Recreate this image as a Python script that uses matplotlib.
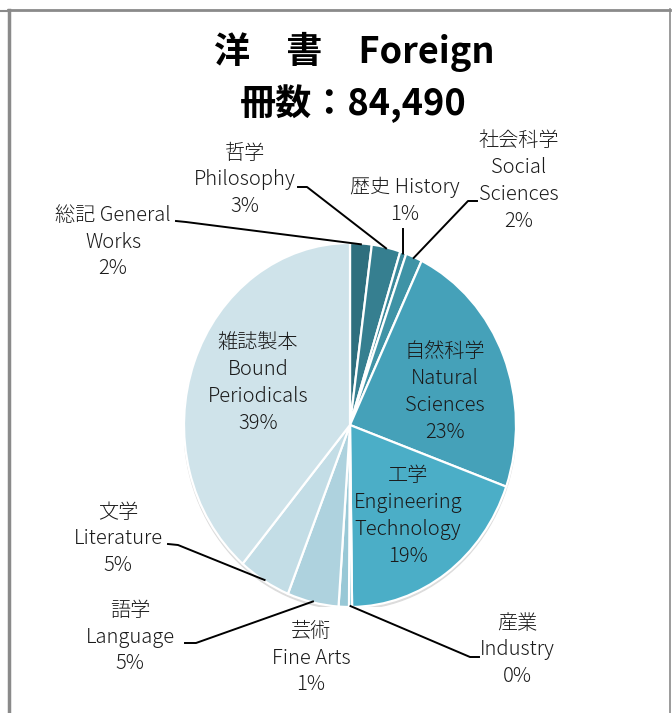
import matplotlib
matplotlib.use('Agg')
import matplotlib.pyplot as plt
import matplotlib.patches as mpatches
import matplotlib.lines as mlines
import numpy as np

plt.rcParams['font.family'] = ['Noto Sans CJK JP', 'DejaVu Sans']

# data (clockwise from 12 o'clock)
jpNames = ['総記', '哲学', '歴史', '社会科学', '自然科学', '工学',
           '産業', '芸術', '語学', '文学', '雑誌製本']
enNames = ['General\nWorks', 'Philosophy', 'History', 'Social\nSciences',
           'Natural\nSciences', 'Engineering\nTechnology', 'Industry',
           'Fine Arts', 'Language', 'Literature', 'Bound\nPeriodicals']
shares = [2.1, 2.8, 0.6, 1.6, 23.4, 19.3, 0.3, 1.0, 5.0, 5.1, 38.8]
colours = ['#2e6f7e', '#367f90', '#3b899b', '#3f93a6', '#45a1b9', '#4baec7',
           '#86c3d2', '#98c8d6', '#aed2de', '#c3dde6', '#cfe3ea']
title1 = '洋　書　Foreign'
title2 = '冊数：84,490'

W, H = 672, 713
fig = plt.figure(figsize=(W / 100, H / 100), dpi=100)
fig.patch.set_facecolor('white')

# pie axes, stretched a bit vertically like the original
cx, cy, rx, ry = 350, 425, 166, 182
ax = fig.add_axes([(cx - rx) / W, (H - cy - ry) / H, 2 * rx / W, 2 * ry / H])

# soft shadow under the pie
ax.add_patch(mpatches.Ellipse((0.0, -0.014), 2.0, 2.0, color='#dcdcdc', zorder=0))

wedges, _ = ax.pie(shares, colors=colours, startangle=90, counterclock=False,
                   wedgeprops=dict(edgecolor='white', linewidth=1.6))
for w in wedges:
    w.set_clip_on(False)
ax.set_aspect('auto')
ax.set_xlim(-1, 1)
ax.set_ylim(-1, 1)
ax.axis('off')

total = float(np.sum(shares))
cum = np.cumsum([0] + shares[:-1]) / total
mids = 90 - 360 * (cum + np.array(shares) / total / 2)
pct = [int(round(s / total * 100)) for s in shares]


def fpx(x, y):
    # figure pixel (top-left origin) -> figure fraction
    return x / W, 1 - y / H


def px2data(x, y):
    return ax.transData.inverted().transform((x, H - y))


def edge(i, r=1.0):
    a = np.deg2rad(mids[i])
    return r * np.cos(a), r * np.sin(a)


txtKw = dict(ha='center', va='center', multialignment='center', fontsize=14.5,
             color='#1a1a1a', linespacing=1.36, fontweight='light')

# label texts: (index, text, centre pixel)
labels = [
    (0, '総記 General\nWorks\n%d%%' % pct[0], (113, 242)),
    (1, '哲学\nPhilosophy\n%d%%' % pct[1], (245, 180)),
    (2, '歴史 History\n%d%%' % pct[2], (405, 201)),
    (3, '社会科学\nSocial\nSciences\n%d%%' % pct[3], (519, 181)),
    (4, '自然科学\nNatural\nSciences\n%d%%' % pct[4], (445, 392)),
    (5, '工学\nEngineering\nTechnology\n%d%%' % pct[5], (408, 516)),
    (6, '産業\nIndustry\n%d%%' % pct[6], (517, 650)),
    (7, '芸術\nFine Arts\n%d%%' % pct[7], (311, 658)),
    (8, '語学\nLanguage\n%d%%' % pct[8], (130, 637)),
    (9, '文学\nLiterature\n%d%%' % pct[9], (118, 539)),
    (10, '雑誌製本\nBound\nPeriodicals\n%d%%' % pct[10], (258, 383)),
]
for i, t, (x, y) in labels:
    fig.text(*fpx(x, y), t, **txtKw)

# leader lines: (index, start pixel, stub pixel)
leaders = [
    (0, (176, 221), (186, 222)),
    (1, (298, 187), (307, 187)),
    (2, (403, 229), (403, 231)),
    (3, (477, 201), (468, 201)),
    (6, (479, 657), (470, 657)),
    (8, (185, 643), (196, 643)),
    (9, (168, 544), (178, 545)),
]
for i, p0, p1 in leaders:
    a = px2data(*p0)
    b = px2data(*p1)
    c = edge(i, 0.995)
    ax.add_line(mlines.Line2D([a[0], b[0], c[0]], [a[1], b[1], c[1]],
                              color='black', lw=1.4, clip_on=False, zorder=5))

# title
ttlKw = dict(ha='center', va='center', fontsize=26, fontweight='bold', color='black')
fig.text(*fpx(354, 52), title1, **ttlKw)
fig.text(*fpx(353, 104), title2, **ttlKw)

# frame lines
gray = '#8a8a8a'
fig.add_artist(mlines.Line2D([8 / W, 670 / W], [1 - 10 / H, 1 - 10 / H], color=gray, lw=2))
fig.add_artist(mlines.Line2D([0, 8 / W], [1 - 11 / H, 1 - 11 / H], color=gray, lw=1.5))
fig.add_artist(mlines.Line2D([9 / W, 9 / W], [1 - 10 / H, 0], color=gray, lw=2.5))
fig.add_artist(mlines.Line2D([670 / W, 670 / W], [1 - 9 / H, 0], color=gray, lw=1.2))

fig.savefig('out.png', dpi=100)
